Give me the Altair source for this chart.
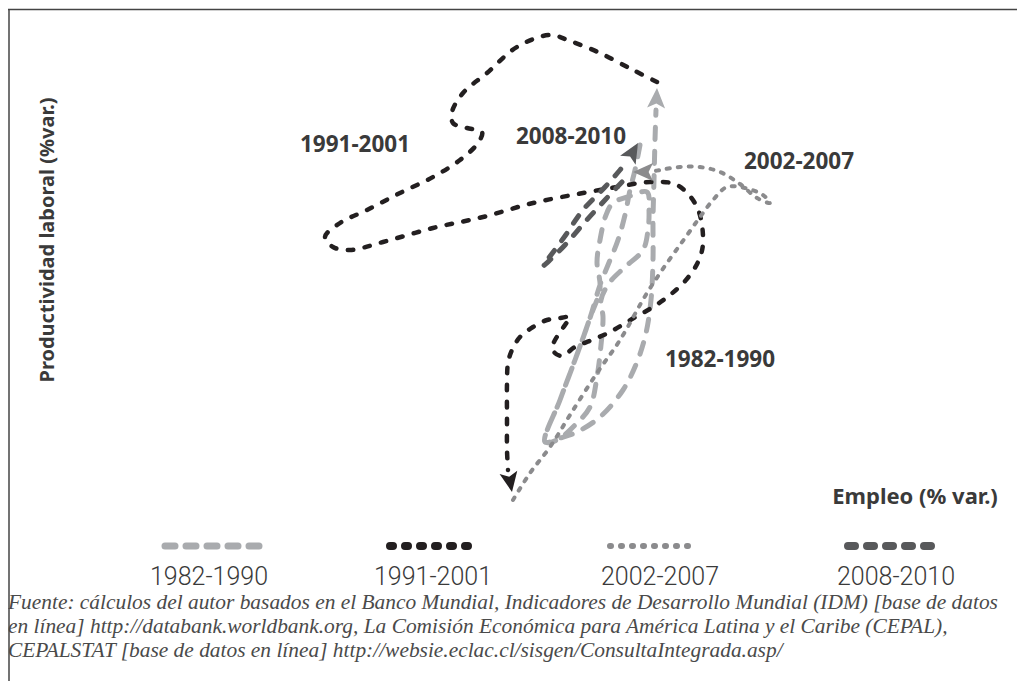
import math
import altair as alt
import pandas as pd

# ---------------- data (picture coordinates) ----------------
series_names = ["1982-1990", "1991-2001", "2002-2007", "2008-2010"]

# 1982-1990 path (last point = arrow tip)
s8290_x = [640, 635, 630, 625, 618, 608, 600, 590, 575, 560, 545,
           557, 575, 590, 597, 601, 603, 601,
           610, 625, 643, 648, 649, 647,
           630, 613, 606, 600, 597, 600,
           590, 575, 560, 545,
           560, 577, 600, 623, 637, 646, 651, 653, 653, 654, 655, 656, 657]
s8290_y = [145, 170, 190, 215, 240, 265, 285, 318, 360, 400, 442,
           440, 425, 407, 377, 345, 317, 300,
           282, 267, 250, 230, 210, 192,
           196, 203, 215, 240, 262, 288,
           318, 360, 400, 442,
           438, 432, 417, 390, 362, 333, 300, 260, 220, 180, 140, 110, 88]

# 1991-2001 path
s9101_x = [657, 633, 600, 570, 550, 517, 487, 463, 452, 453, 467, 482, 478, 460, 433, 400, 367, 340, 325, 333,
           350, 383, 433, 483, 533, 583, 617, 650, 677, 697, 703, 698, 686, 670, 653, 632, 610, 592, 575, 562,
           554, 553, 558, 565, 570, 560, 547, 533, 520, 512, 508, 507, 507, 507, 508, 512]
s9101_y = [82, 70, 53, 41, 35, 47, 73, 93, 112, 123, 128, 132, 143, 160, 177, 193, 210, 223, 237, 247,
           250, 242, 228, 217, 203, 193, 187, 182, 185, 207, 243, 262, 280, 295, 307, 319, 332, 340, 347, 356,
           352, 345, 335, 325, 317, 318, 320, 327, 337, 350, 363, 383, 420, 450, 470, 492]

# 2002-2007 path
s0207_x = [513, 530, 550, 570, 597, 620, 647, 667, 685, 700, 713, 727, 745, 763, 770, 757, 740, 720, 700,
           680, 660, 650, 633]
s0207_y = [500, 473, 447, 415, 373, 340, 293, 263, 238, 217, 200, 187, 188, 195, 203, 198, 184, 172, 167,
           167, 170, 172, 172]

# 2008-2010 path
s0810_x = [622, 605, 585, 565, 550, 543, 551, 565, 583, 605, 620, 628, 638]
s0810_y = [182, 200, 222, 245, 260, 266, 255, 236, 210, 187, 170, 160, 143]

source_lines = [
    "Fuente: cálculos del autor basados en el Banco Mundial, Indicadores de Desarrollo Mundial (IDM) [base de datos",
    "en línea] http://databank.worldbank.org, La Comisión Económica para América Latina y el Caribe (CEPAL),",
    "CEPALSTAT [base de datos en línea] http://websie.eclac.cl/sisgen/ConsultaIntegrada.asp/",
]
y_title = "Productividad laboral (%var.)"
x_title = "Empleo (% var.)"

# ---------------- styling / layout ----------------
COLORS = ["#a9abae", "#231f20", "#8b8b8d", "#58595b"]
DASHES = [[12, 12], [5.5, 11.5], [3, 8], [9, 12]]
WIDTHS = [5, 4.5, 4, 5]
LEG_DASH = [[10, 11], [3, 12], [1, 10], [7, 12]]
LEG_W = [7, 8, 6, 8]
LEG_X0 = [165, 390, 610, 848]
LEG_X1 = [262, 478, 695, 940]
LEG_LX = [209, 433, 660, 896]
LAB_POS = {"1991-2001": (355, 145), "2008-2010": (571, 137), "2002-2007": (799, 162), "1982-1990": (720, 360)}
TXT = "#3a3a3a"
BOLD_FONT = "Noto Sans"

W, H = 1009, 673
OFF = 8  # page margin


def px(v):
    return v - OFF


XS = alt.Scale(domain=[OFF, OFF + W], nice=False, zero=False)
YS = alt.Scale(domain=[OFF, OFF + H], reverse=True, nice=False, zero=False)


def path_df(xs, ys):
    return pd.DataFrame({"x": xs[:-1], "y": ys[:-1], "i": list(range(len(xs) - 1))})


def arrow_df(xs, ys):
    dx = xs[-1] - xs[-2]
    dy = ys[-1] - ys[-2]
    ang = math.degrees(math.atan2(dx, -dy)) % 360
    return pd.DataFrame({"x": [xs[-1]], "y": [ys[-1]], "a": [ang]})


def line_layer(xs, ys, color, dash, width):
    return alt.Chart(path_df(xs, ys)).mark_line(
        color=color, strokeDash=dash, strokeWidth=width, strokeCap="round",
        strokeJoin="round", interpolate="catmull-rom"
    ).encode(
        x=alt.X("x:Q", scale=XS, axis=None),
        y=alt.Y("y:Q", scale=YS, axis=None),
        order=alt.Order("i:Q"),
    )


ARROW = "M0,0 L0.45,1 L0,0.78 L-0.45,1 Z"


def arrow_layer(xs, ys, color):
    return alt.Chart(arrow_df(xs, ys)).mark_point(
        shape=ARROW, filled=True, color=color, opacity=1, size=1600, strokeWidth=0
    ).encode(
        x=alt.X("x:Q", scale=XS, axis=None),
        y=alt.Y("y:Q", scale=YS, axis=None),
        angle=alt.Angle("a:Q", scale=None),
    )


one = pd.DataFrame({"k": [0]})


def text_at(txt, x, y, **kw):
    return alt.Chart(one).mark_text(text=txt, **kw).encode(x=alt.value(px(x)), y=alt.value(px(y)))


paths = [(s8290_x, s8290_y), (s9101_x, s9101_y), (s0207_x, s0207_y), (s0810_x, s0810_y)]
layers = []
for k, (xs, ys) in enumerate(paths):
    layers.append(line_layer(xs, ys, COLORS[k], DASHES[k], WIDTHS[k]))
for k, (xs, ys) in enumerate(paths):
    layers.append(arrow_layer(xs, ys, COLORS[k]))

# series labels inside the plot
for name in series_names:
    lx, ly = LAB_POS[name]
    layers.append(text_at(name, lx, ly, font=BOLD_FONT, fontWeight="bold", fontSize=22.5,
                          color=TXT, align="center", baseline="middle"))

# axis titles
layers.append(text_at(y_title, 48, 240, font=BOLD_FONT, fontWeight="bold", fontSize=20,
                      color=TXT, align="center", baseline="middle", angle=270))
layers.append(text_at(x_title, 915, 497, font=BOLD_FONT, fontWeight="bold", fontSize=22,
                      color=TXT, align="center", baseline="middle"))

# legend
for k, name in enumerate(series_names):
    layers.append(alt.Chart(one).mark_rule(
        color=COLORS[k], strokeDash=LEG_DASH[k], strokeWidth=LEG_W[k], strokeCap="round"
    ).encode(x=alt.value(px(LEG_X0[k])), x2=alt.value(px(LEG_X1[k])), y=alt.value(px(546))))
    layers.append(text_at(name, LEG_LX[k], 577, font="Roboto", fontWeight=300,
                          fontSize=25, color=TXT, align="center", baseline="middle"))

# source text
for j, line in enumerate(source_lines):
    layers.append(text_at(line, 8, 603 + 24 * j, font="Liberation Serif", fontStyle="italic",
                          fontSize=21.4, color="#4a4a4a", align="left", baseline="middle"))

# frame lines
layers.append(alt.Chart(one).mark_rule(color="#444444", strokeWidth=1.5).encode(
    x=alt.value(0), x2=alt.value(W), y=alt.value(1.5)))
layers.append(alt.Chart(one).mark_rule(color="#444444", strokeWidth=1.5).encode(
    x=alt.value(1), y=alt.value(1.5), y2=alt.value(H)))

chart = alt.layer(*layers).properties(
    width=W, height=H, padding=0, autosize=alt.AutoSizeParams(type="none"),
    background="white",
).configure_view(strokeWidth=0)

chart.save("out.html", embed_options={"renderer": "svg", "actions": False})
